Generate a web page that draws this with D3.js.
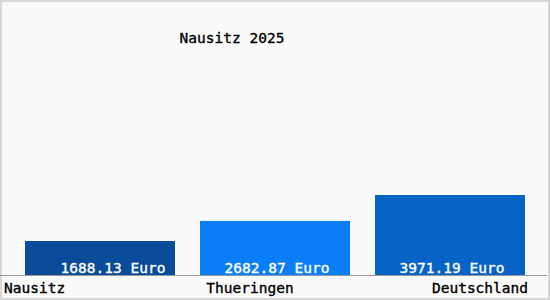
<!DOCTYPE html>
<html lang="de">
  <head>
    <meta charset="utf-8">
    <script src="https://cdn.jsdelivr.net/npm/d3@7"></script>
    <style>
      body { margin: 0; background: #fff; }
      text { font-family: "DejaVu Sans Mono", monospace; stroke-width: 0.35px; }
    </style>
  </head>
  <body>
    <div id="chart"></div>
    <script>
      // data
      var title = "Nausitz 2025";
      var categories = ["Nausitz", "Thueringen", "Deutschland"];
      var values = [1688.13, 2682.87, 3971.19];
      var unit = "Euro";
      var colors = ["#0a4c9a", "#0a7ef6", "#0863c6"];

      var w = 550, h = 300;
      var baseY = 275;

      var svg = d3.select("#chart").append("svg")
        .attr("width", w)
        .attr("height", h);

      // frame
      svg.append("rect")
        .attr("x", 1).attr("y", 1)
        .attr("width", w - 2).attr("height", h - 2)
        .attr("fill", "#fafafa")
        .attr("stroke", "#d8d8d8")
        .attr("stroke-width", 2);

      var x = d3.scaleBand()
        .domain(categories)
        .range([12.5, 537.5])
        .paddingInner(1 / 7)
        .paddingOuter(1 / 14);

      var y = d3.scaleLinear()
        .domain([0, 3971.19])
        .range([baseY, 195]);

      // bars
      svg.selectAll(".bar")
        .data(values)
        .enter()
        .append("rect")
        .attr("class", "bar")
        .attr("x", function(d, i) { return x(categories[i]); })
        .attr("y", function(d) { return y(d); })
        .attr("width", x.bandwidth())
        .attr("height", function(d) { return baseY - y(d); })
        .attr("fill", function(d, i) { return colors[i]; });

      // value labels
      svg.selectAll(".val")
        .data(values)
        .enter()
        .append("text")
        .attr("class", "val")
        .attr("x", function(d, i) { return x(categories[i]) + x.bandwidth() / 2 + (i == 0 ? 13 : 2); })
        .attr("y", baseY - 2)
        .attr("text-anchor", "middle")
        .attr("fill", "#fff")
        .attr("stroke", "#fff")
        .style("font-size", "14.5px")
        .text(function(d) { return d.toFixed(2) + " " + unit; });

      // baseline
      svg.append("line")
        .attr("x1", 0).attr("x2", w - 3)
        .attr("y1", baseY + 0.5).attr("y2", baseY + 0.5)
        .attr("stroke", "#999")
        .attr("stroke-width", 1);

      // category labels
      var anchors = ["start", "middle", "end"];
      svg.selectAll(".cat")
        .data(categories)
        .enter()
        .append("text")
        .attr("class", "cat")
        .attr("x", function(d, i) {
          if (i == 0) return 4;
          if (i == categories.length - 1) return 528;
          return w / 2 - 25;
        })
        .attr("y", 293)
        .attr("text-anchor", function(d, i) { return anchors[i]; })
        .attr("fill", "#000")
        .attr("stroke", "#000")
        .style("font-size", "14.5px")
        .text(function(d) { return d; });

      // title
      svg.append("text")
        .attr("x", 232)
        .attr("y", 43)
        .attr("text-anchor", "middle")
        .attr("fill", "#000")
        .attr("stroke", "#000")
        .style("font-size", "14.5px")
        .text(title);
    </script>
  </body>
</html>
